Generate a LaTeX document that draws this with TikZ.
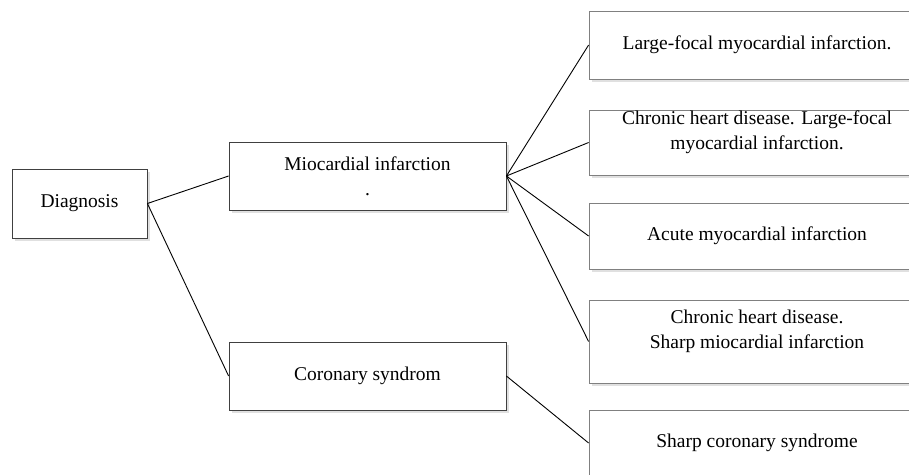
\documentclass[tikz,border=0pt]{standalone}
\usepackage{fontspec}
\setmainfont{Liberation Serif}
\usetikzlibrary{shadows}
\begin{document}
\begin{tikzpicture}[x=1pt,y=-1pt,
  box/.style={rectangle, draw=black!75, line width=0.8pt, fill=white,
    inner sep=0pt, align=center, font=\fontsize{19.5}{25}\selectfont,
    general shadow={fill=black!12, shadow xshift=2.5pt, shadow yshift=-2.5pt}},
  lbox/.style={box, minimum width=277pt, minimum height=68pt},
  rbox/.style={box, draw=black!50, minimum width=336pt},
  link/.style={draw=black, line width=0.9pt}]
\useasboundingbox (0,0) rectangle (909,474);
\clip (0,0) rectangle (909,474);
\fill[white] (0,0) rectangle (909,474);

% root and first level
\node[box, minimum width=135pt, minimum height=69pt] (diag) at (79.5,203.5) {Diagnosis};
\node[lbox] (mio) at (367.5,176) {Miocardial infarction\\.};
\node[lbox] (cor) at (367.5,376) {Coronary syndrom};

% second level (runs past the right and bottom edges)
\node[rbox, minimum height=68pt] (r1) at (757,45) {Large-focal myocardial infarction.};
\node[rbox, minimum height=65pt] (r2) at (757,142.5) {Chronic heart disease. Large-focal\\myocardial infarction.\\\mbox{}};
\node[rbox, minimum height=66pt] (r3) at (757,236) {Acute myocardial infarction};
\node[rbox, minimum height=83pt] (r4) at (757,341.5) {Chronic heart disease.\\Sharp miocardial infarction\\\mbox{}};
\node[rbox, minimum height=66pt] (r5) at (757,443) {Sharp coronary syndrome};

% connectors
\draw[link] (diag.east) -- (mio.west);
\draw[link] (diag.east) -- (cor.west);
\foreach \t in {r1,r2,r3,r4}
  \draw[link] (mio.east) -- (\t.west);
\draw[link] (cor.east) -- (r5.west);
\end{tikzpicture}
\end{document}
